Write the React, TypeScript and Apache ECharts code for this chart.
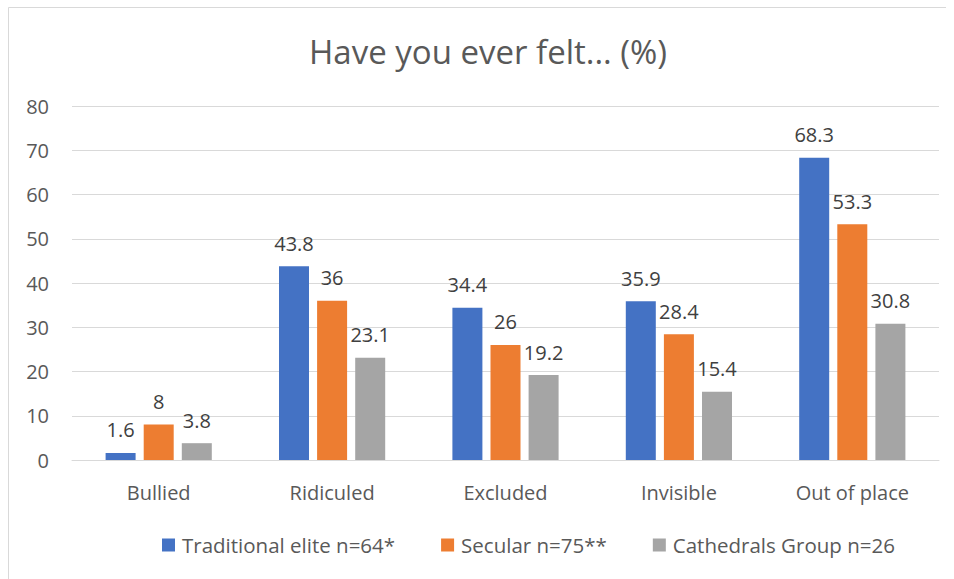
import React, { useEffect, useRef } from "react";
import * as echarts from "echarts";

const categories = ["Bullied", "Ridiculed", "Excluded", "Invisible", "Out of place"];
const traditionalElite = [1.6, 43.8, 34.4, 35.9, 68.3];
const secular = [8, 36, 26, 28.4, 53.3];
const cathedralsGroup = [3.8, 23.1, 19.2, 15.4, 30.8];
const seriesNames = ["Traditional elite n=64*", "Secular n=75**", "Cathedrals Group n=26"];
const yTicks = { min: 0, max: 80, interval: 10 };

const FONT = "'Open Sans', 'Noto Sans', sans-serif";
const colors = ["#4472C4", "#ED7D31", "#A5A5A5"];

export default function App() {
  const ref = useRef<HTMLDivElement>(null);

  useEffect(() => {
    if (!ref.current) return;
    const chart = echarts.init(ref.current, undefined, { renderer: "svg" });
    const values = [traditionalElite, secular, cathedralsGroup];

    chart.setOption({
      animation: false,
      backgroundColor: "#ffffff",
      color: colors,
      title: {
        text: "Have you ever felt... (%)",
        left: 304,
        top: 30,
        textStyle: {
          fontFamily: FONT,
          fontSize: 33,
          fontWeight: "normal",
          color: "#595959",
        },
      },
      legend: {
        left: 157,
        top: 527,
        icon: "rect",
        itemWidth: 13,
        itemHeight: 13,
        itemGap: 46,
        textStyle: {
          fontFamily: FONT,
          fontSize: 20.5,
          color: "#595959",
          lineHeight: 26,
          padding: [0, 0, 0, 2],
        },
        data: seriesNames,
      },
      grid: {
        left: 72,
        right: 15,
        top: 106,
        bottom: 119,
        containLabel: false,
      },
      xAxis: {
        type: "category",
        data: categories,
        axisTick: { show: false },
        axisLine: { lineStyle: { color: "#D9D9D9", width: 1 } },
        axisLabel: {
          fontFamily: FONT,
          fontSize: 20,
          lineHeight: 20,
          color: "#595959",
          margin: 22,
        },
      },
      yAxis: {
        type: "value",
        min: yTicks.min,
        max: yTicks.max,
        interval: yTicks.interval,
        axisLine: { show: false },
        axisTick: { show: false },
        splitLine: { lineStyle: { color: "#D9D9D9", width: 1 } },
        axisLabel: {
          fontFamily: FONT,
          fontSize: 20,
          color: "#595959",
          margin: 23,
        },
      },
      series: seriesNames.map((name, i) => ({
        name,
        type: "bar",
        data: values[i],
        barWidth: 30,
        barGap: "27%",
        label: {
          show: true,
          position: "top",
          distance: 13,
          fontFamily: FONT,
          fontSize: 20,
          color: "#404040",
        },
      })),
      graphic: [
        {
          type: "line",
          shape: { x1: 8.5, y1: 7.5, x2: 946, y2: 7.5 },
          style: { stroke: "#D9D9D9", lineWidth: 1 },
        },
        {
          type: "line",
          shape: { x1: 8.5, y1: 7.5, x2: 8.5, y2: 579 },
          style: { stroke: "#D9D9D9", lineWidth: 1 },
        },
      ],
    });

    return () => chart.dispose();
  }, []);

  return (
    <div
      ref={ref}
      style={{ position: "absolute", left: 0, top: 0, width: 954, height: 579 }}
    />
  );
}
